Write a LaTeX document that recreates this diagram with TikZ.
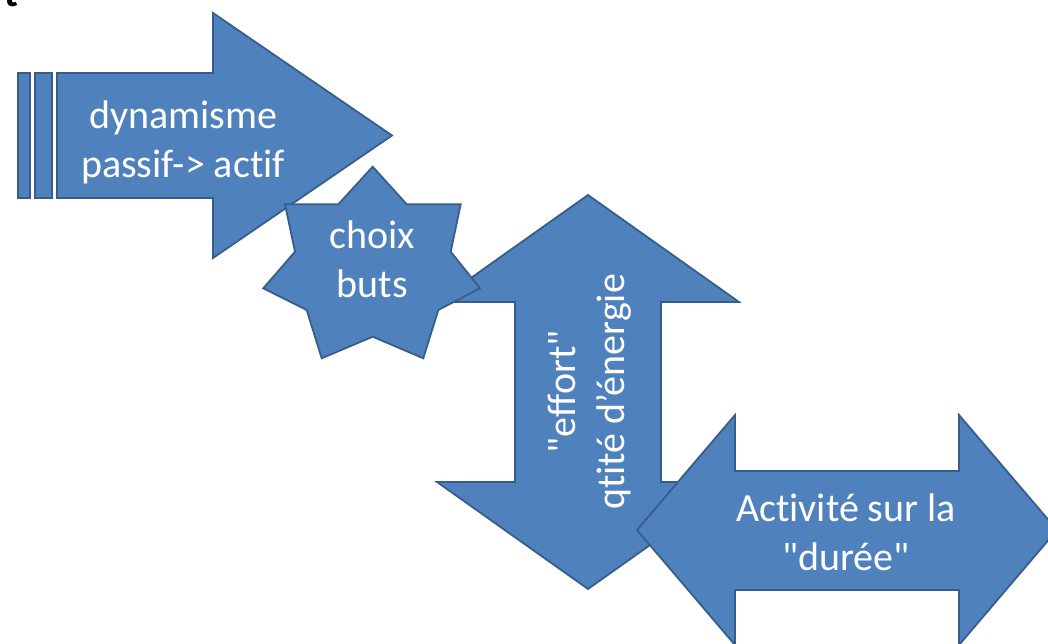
\documentclass[tikz,border=0pt]{standalone}
\usepackage{fontspec}
\setmainfont{Carlito}[Ligatures={TeXOff,NoCommon}]
\definecolor{shapefill}{HTML}{4F81BD}
\definecolor{shapeline}{HTML}{385D8A}
\begin{document}
\begin{tikzpicture}[x=1pt,y=-1pt,
  blockshape/.style={fill=shapefill,draw=shapeline,line width=1.8pt,line join=miter},
  whitetext/.style={text=white,font=\fontsize{40}{49}\selectfont,align=center,inner sep=0pt}]
\useasboundingbox (0,0) rectangle (1048,644);

% cut-off letter in the corner
\node[font=\bfseries\fontsize{40}{48}\selectfont,anchor=base west,inner sep=0pt] (cornerletter) at (4,7) {t};

% striped right arrow
\draw[blockshape] (18,73) rectangle (30,198);
\draw[blockshape] (35,73) rectangle (52,198);
\draw[blockshape] (57,73) -- (213,73) -- (213,13) -- (392,135.5) -- (213,258)
  -- (213,198) -- (57,198) -- cycle;
\node[whitetext] (dyn) at (183,142) {dynamisme\\passif-> actif};

% vertical double arrow
\draw[blockshape] (588,195) -- (739,302) -- (661,302) -- (661,482) -- (739,482)
  -- (588,589) -- (437,482) -- (515,482) -- (515,302) -- (437,302) -- cycle;
\node[whitetext,rotate=90] (effort) at (590,392) {"effort"\\qtité d’énergie};

% seven-pointed star
\draw[blockshape] (372.7,166.7) -- (406.7,204.3) -- (460.7,204.3) -- (450.7,251.7)
  -- (480,288.3) -- (438.3,310) -- (423.3,358.3) -- (372.7,336.7) -- (321.7,358.3)
  -- (306.7,310) -- (263.3,288.3) -- (295,251.7) -- (285,204.3) -- (338.3,204.3) -- cycle;
\node[whitetext] (choix) at (372.5,259) {choix\\buts};

% horizontal double arrow
\draw[blockshape] (637,530) -- (735,415) -- (735,471) -- (959,471) -- (959,415)
  -- (1057,530) -- (959,645) -- (959,590) -- (735,590) -- (735,645) -- cycle;
\node[whitetext] (duree) at (846,532) {Activité sur la\\"durée"};
\end{tikzpicture}
\end{document}
